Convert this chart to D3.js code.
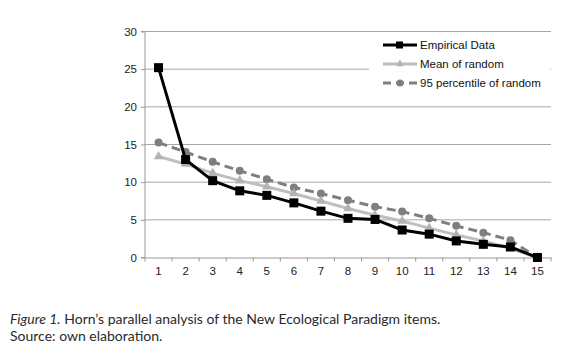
<!DOCTYPE html>
<html>
<head>
<meta charset="utf-8">
<script src="https://cdn.jsdelivr.net/npm/d3@7"></script>
<style>
  body { margin: 0; background: #fff; }
</style>
</head>
<body>
<svg id="drawing_region"></svg>
<script>
const items = d3.range(1, 16);
const empirical = [25.2, 13.0, 10.2, 8.85, 8.25, 7.25, 6.15, 5.2, 5.05, 3.65, 3.1, 2.2, 1.75, 1.4, 0];
const meanRandom = [13.4, 12.4, 11.2, 10.2, 9.4, 8.5, 7.5, 6.5, 5.6, 4.85, 3.9, 3.0, 2.2, 1.2, 0];
const p95Random = [15.25, 14.0, 12.7, 11.5, 10.4, 9.3, 8.5, 7.6, 6.75, 6.1, 5.2, 4.2, 3.3, 2.3, 0];
const yTicks = [0, 5, 10, 15, 20, 25, 30];
const seriesNames = ['Empirical Data', 'Mean of random', '95 percentile of random'];

const width = 580, height = 352;
const svg = d3.select('#drawing_region')
    .attr('width', width)
    .attr('height', height);

const x = d3.scaleBand()
    .domain(items)
    .range([145, 551]);
const y = d3.scaleLinear()
    .domain([0, 30])
    .range([257.5, 31.5]);

// gridlines
svg.append('g')
    .selectAll('line')
    .data(yTicks.filter(d => d > 0))
    .enter().append('line')
    .attr('x1', 145).attr('x2', 551)
    .attr('y1', d => y(d)).attr('y2', d => y(d))
    .attr('stroke', '#a6a6a6')
    .attr('stroke-width', 1);

// y axis
const yAxis = svg.append('g')
    .attr('transform', 'translate(145,0)')
    .call(d3.axisLeft(y).tickValues(yTicks).tickSize(4).tickPadding(4));
yAxis.select('.domain').attr('stroke', '#999').attr('d', `M-4,${y(0)}H0V${y(30)}H-4`);
yAxis.selectAll('.tick line').attr('stroke', '#999');
yAxis.selectAll('text')
    .attr('font-family', 'Liberation Sans, Arial, sans-serif')
    .attr('font-size', 11.5)
    .attr('fill', '#222');

// x axis with ticks on band boundaries
const xAxis = svg.append('g')
    .attr('transform', `translate(0,${y(0)})`)
    .call(d3.axisBottom(x).tickSize(0).tickPadding(9));
xAxis.select('.domain').attr('stroke', '#999');
xAxis.selectAll('text')
    .attr('font-family', 'Liberation Sans, Arial, sans-serif')
    .attr('font-size', 11.5)
    .attr('fill', '#222');
xAxis.selectAll('.boundary')
    .data(items.concat([16]))
    .enter().append('line')
    .attr('x1', d => d === 16 ? x(15) + x.bandwidth() : x(d))
    .attr('x2', d => d === 16 ? x(15) + x.bandwidth() : x(d))
    .attr('y1', 0).attr('y2', 4)
    .attr('stroke', '#999');

const cx = i => x(items[i]) + x.bandwidth() / 2;
const line = d3.line()
    .x((d, i) => cx(i))
    .y(d => y(d));

// 95 percentile
svg.append('path')
    .datum(p95Random)
    .attr('d', line)
    .attr('fill', 'none')
    .attr('stroke', '#7f7f7f')
    .attr('stroke-width', 3)
    .attr('stroke-dasharray', '9,5');
svg.append('g').selectAll('circle')
    .data(p95Random)
    .enter().append('circle')
    .attr('cx', (d, i) => cx(i))
    .attr('cy', d => y(d))
    .attr('r', 4)
    .attr('fill', '#7f7f7f');

// mean of random
svg.append('path')
    .datum(meanRandom)
    .attr('d', line)
    .attr('fill', 'none')
    .attr('stroke', '#bfbfbf')
    .attr('stroke-width', 3);
const tri = d3.symbol().type(d3.symbolTriangle).size(40);
svg.append('g').selectAll('path')
    .data(meanRandom)
    .enter().append('path')
    .attr('d', tri)
    .attr('transform', (d, i) => `translate(${cx(i)},${y(d)})`)
    .attr('fill', '#b3b3b3');

// empirical
svg.append('path')
    .datum(empirical)
    .attr('d', line)
    .attr('fill', 'none')
    .attr('stroke', '#000')
    .attr('stroke-width', 3);
svg.append('g').selectAll('rect')
    .data(empirical)
    .enter().append('rect')
    .attr('x', (d, i) => cx(i) - 4.5)
    .attr('y', d => y(d) - 4.5)
    .attr('width', 9).attr('height', 9)
    .attr('fill', '#000');

// legend
const legend = svg.append('g');
legend.append('rect')
    .attr('x', 369).attr('y', 35)
    .attr('width', 181).attr('height', 60)
    .attr('fill', '#fff');
const legRows = legend.selectAll('g.row')
    .data(seriesNames)
    .enter().append('g')
    .attr('class', 'row')
    .attr('transform', (d, i) => `translate(383,${45 + i * 19})`);
legRows.append('line')
    .attr('x1', 0).attr('x2', 34)
    .attr('stroke', (d, i) => ['#000', '#bfbfbf', '#7f7f7f'][i])
    .attr('stroke-width', 3)
    .attr('stroke-dasharray', (d, i) => i === 2 ? '8,5' : null);
legRows.each(function (d, i) {
    const g = d3.select(this);
    if (i === 0) g.append('rect').attr('x', 13).attr('y', -3.5).attr('width', 7).attr('height', 7).attr('fill', '#000');
    if (i === 1) g.append('path').attr('d', d3.symbol().type(d3.symbolTriangle).size(25)).attr('transform', 'translate(17,0)').attr('fill', '#b3b3b3');
    if (i === 2) g.append('circle').attr('cx', 17).attr('r', 3.5).attr('fill', '#7f7f7f');
});
legRows.append('text')
    .attr('x', 37)
    .attr('dy', '0.35em')
    .attr('font-family', 'Liberation Sans, Arial, sans-serif')
    .attr('font-size', 11.5)
    .attr('fill', '#111')
    .text(d => d);

// caption
const cap = svg.append('text')
    .attr('x', 10).attr('y', 323.5)
    .attr('font-family', 'Lato, sans-serif')
    .attr('font-size', 14)
    .attr('fill', '#2a2a2a');
cap.append('tspan').attr('font-style', 'italic').text('Figure 1.');
cap.append('tspan').text(' Horn\u2019s parallel analysis of the New Ecological Paradigm items.');
svg.append('text')
    .attr('x', 10).attr('y', 341)
    .attr('font-family', 'Lato, sans-serif')
    .attr('font-size', 14)
    .attr('fill', '#2a2a2a')
    .text('Source: own elaboration.');
</script>
</body>
</html>
